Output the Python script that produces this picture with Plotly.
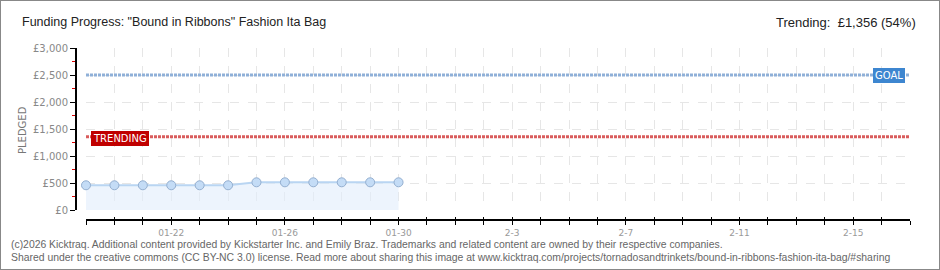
import plotly.graph_objects as go

dates = ["2026-01-19", "2026-01-20", "2026-01-21", "2026-01-22", "2026-01-23", "2026-01-24",
         "2026-01-25", "2026-01-26", "2026-01-27", "2026-01-28", "2026-01-29", "2026-01-30"]
pledged = [458, 458, 458, 458, 458, 458, 513, 513, 513, 513, 513, 513]
goal = 2500
trending = 1356
x_start, x_end = "2026-01-19", "2026-02-17"
day_ticks = ["2026-01-%02d" % d for d in range(19, 32)] + ["2026-02-%02d" % d for d in range(1, 18)]
label_ticks = ["2026-01-22", "2026-01-26", "2026-01-30", "2026-02-03", "2026-02-07", "2026-02-11", "2026-02-15"]
label_text = ["01-22", "01-26", "01-30", "2-3", "2-7", "2-11", "2-15"]
y_ticks = [0, 500, 1000, 1500, 2000, 2500, 3000]
y_text = ["£0", "£500", "£1,000", "£1,500", "£2,000", "£2,500", "£3,000"]

W, H = 940, 270
fx = lambda px: px / W
fy = lambda py: (H - py) / H

fig = go.Figure()
fig.add_trace(go.Scatter(
    x=dates, y=pledged, mode="lines+markers",
    line=dict(color="#b9d5f2", width=2),
    fill="tozeroy", fillcolor="rgba(225,237,252,0.6)",
    marker=dict(size=9, color="#c4dcf6", line=dict(color="#94afd0", width=1)),
    cliponaxis=False, hoverinfo="skip", showlegend=False))
fig.add_trace(go.Scatter(
    x=[x_start, x_end], y=[goal, goal], mode="lines",
    line=dict(color="#8fb0d8", width=3, dash="3px,1px"), showlegend=False, hoverinfo="skip"))
fig.add_trace(go.Scatter(
    x=[x_start, x_end], y=[trending, trending], mode="lines",
    line=dict(color="#d95c5c", width=3, dash="3px,1px"), showlegend=False, hoverinfo="skip"))
# invisible helper trace on the overlay axis so its inside ticks are drawn
fig.add_trace(go.Scatter(x=[x_start, x_end], y=[None, None], xaxis="x2", mode="lines",
                         showlegend=False, hoverinfo="skip"))

font_title = "Liberation Sans, Arial"
font_main = "DejaVu Sans"
font_foot = "Liberation Sans, Arial"
fig.update_layout(
    width=W, height=H, margin=dict(l=0, r=0, t=0, b=0, pad=0, autoexpand=False),
    paper_bgcolor="white", plot_bgcolor="white", showlegend=False,
    xaxis=dict(
        domain=[fx(86), fx(910)], type="date", range=[x_start, x_end],
        anchor="free", position=fy(220), automargin=False,
        showline=True, linecolor="black", linewidth=2,
        tickvals=label_ticks, ticktext=label_text, ticks="outside", ticklen=4,
        tickcolor="black", tickwidth=1,
        tickfont=dict(family=font_main, size=9, color="#999999"),
        showgrid=True, gridcolor="#e6e6e6", griddash="dash", gridwidth=1,
        minor=dict(tickvals=day_ticks, ticks="outside", ticklen=4, tickcolor="black",
                   showgrid=True, gridcolor="#e6e6e6", griddash="dash"),
        zeroline=False, fixedrange=True),
    xaxis2=dict(
        domain=[fx(86), fx(910)], type="date", range=[x_start, x_end], overlaying="x",
        anchor="free", position=fy(220), automargin=False,
        showline=False, tickvals=day_ticks, ticks="inside", ticklen=3,
        tickcolor="black", tickwidth=1, showticklabels=False, showgrid=False,
        zeroline=False, fixedrange=True),
    yaxis=dict(
        domain=[fy(210), fy(48)], range=[0, 3000],
        anchor="free", position=fx(76), automargin=False,
        showline=True, linecolor="black", linewidth=2,
        tickvals=y_ticks, ticktext=y_text, ticks="outside", ticklen=5,
        tickcolor="black", tickwidth=1,
        tickfont=dict(family=font_main, size=10, color="#888888"),
        showgrid=True, gridcolor="#e6e6e6", griddash="dash", gridwidth=1,
        minor=dict(dtick=250, ticks="outside", ticklen=3, tickcolor="#dd0000", showgrid=False),
        zeroline=False, fixedrange=True),
    annotations=[
        dict(text='Funding Progress: "Bound in Ribbons" Fashion Ita Bag', x=fx(20), y=fy(22),
             xref="paper", yref="paper", xanchor="left", yanchor="middle", showarrow=False,
             font=dict(family=font_title, size=12.5, color="#222222")),
        dict(text="Trending:  £1,356 (54%)", x=fx(918), y=fy(22),
             xref="paper", yref="paper", xanchor="right", yanchor="middle", showarrow=False,
             font=dict(family=font_title, size=13, color="#222222")),
        dict(text="PLEDGED", x=fx(22), y=fy(130), xref="paper", yref="paper", textangle=-90,
             xanchor="center", yanchor="middle",
             showarrow=False, font=dict(family=font_main, size=10, color="#777777")),
        dict(text="GOAL", x=fx(889), y=fy(76), xref="paper", yref="paper", showarrow=False,
             xanchor="center", yanchor="middle",
             bgcolor="#3d86d0", bordercolor="#3d86d0", borderpad=1,
             font=dict(family=font_main, size=10, color="white")),
        dict(text="TRENDING", x=fx(120), y=fy(138), xref="paper", yref="paper", showarrow=False,
             xanchor="center", yanchor="middle",
             bgcolor="#c00000", bordercolor="#c00000", borderpad=1,
             font=dict(family=font_main, size=10, color="white")),
        dict(text="(c)2026 Kicktraq. Additional content provided by Kickstarter Inc. and Emily Braz. Trademarks and related content are owned by their respective companies.",
             x=fx(9), y=fy(244), xref="paper", yref="paper", xanchor="left", yanchor="middle",
             showarrow=False, font=dict(family=font_foot, size=10.4, color="#666666")),
        dict(text="Shared under the creative commons (CC BY-NC 3.0) license. Read more about sharing this image at www.kicktraq.com/projects/tornadosandtrinkets/bound-in-ribbons-fashion-ita-bag/#sharing",
             x=fx(9), y=fy(257), xref="paper", yref="paper", xanchor="left", yanchor="middle",
             showarrow=False, font=dict(family=font_foot, size=10.4, color="#666666")),
    ],
    shapes=[dict(type="rect", xref="paper", yref="paper", x0=0, y0=0, x1=1, y1=1,
                 line=dict(color="#888888", width=2))],
)
fig.write_html("out.html", config={"displayModeBar": False})
